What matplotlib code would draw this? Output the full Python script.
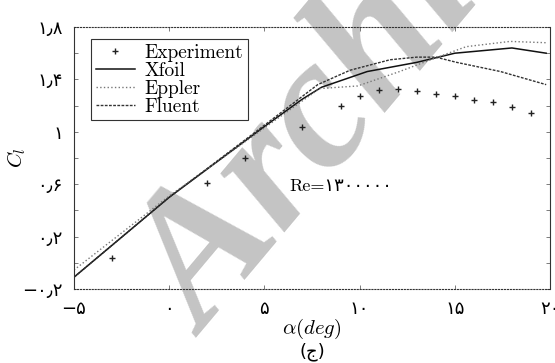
import matplotlib
matplotlib.use("Agg")
import matplotlib.pyplot as plt

plt.rcParams["mathtext.fontset"] = "cm"
plt.rcParams["axes.formatter.use_mathtext"] = True

# lift curve data, Re = 1.3e6
alpha_exp = [-3, 2, 4, 7, 9, 10, 11, 12, 13, 14, 15, 16, 17, 18, 19]
cl_exp = [0.04, 0.61, 0.80, 1.04, 1.20, 1.27, 1.32, 1.33, 1.31, 1.29, 1.27, 1.24, 1.23, 1.19, 1.14]

alpha_xfoil = [-5, 0, 5, 7, 8, 10.4, 13, 15, 18, 19.8]
cl_xfoil = [-0.11, 0.50, 1.04, 1.25, 1.34, 1.46, 1.53, 1.60, 1.64, 1.60]

alpha_eppler = [-5, 0, 5, 7.9, 9.9, 12.1, 14.1, 15.6, 17.9, 19.8]
cl_eppler = [-0.055, 0.51, 1.03, 1.33, 1.35, 1.46, 1.57, 1.65, 1.69, 1.68]

alpha_fluent = [-5, 0, 5, 7.8, 9.5, 11.6, 13, 14, 15.1, 17.4, 19.8]
cl_fluent = [-0.11, 0.50, 1.05, 1.36, 1.47, 1.55, 1.57, 1.57, 1.53, 1.46, 1.36]

y_ticks = [-0.2, 0, 0.2, 0.4, 0.6, 0.8, 1.0, 1.2, 1.4, 1.6, 1.8]
y_labels = ["−۰٫۲", "", "۰٫۲", "", "۰٫۶", "", "۱", "", "۱٫۴", "", "۱٫۸"]
x_ticks = [-5, 0, 5, 10, 15, 20]
x_labels = ["−۵", "۰", "۵", "۱۰", "۱۵", "۲۰"]

fig = plt.figure(figsize=(5.55, 3.63), dpi=100)
ax = fig.add_axes([0.1333, 0.2039, 0.8577, 0.7217])
ax.set_zorder(1)
ax.set_facecolor("none")

# watermark behind the axes
fig.text(0.19, 0.11, "Archive", rotation=50, fontsize=135, color="#c4c4c4",
         family="Liberation Serif", weight="bold", style="italic",
         ha="left", va="baseline", zorder=-5)

ax.plot(alpha_exp, cl_exp, "+", color="#222222", ms=5, mew=1.0, label="Experiment")
ax.plot(alpha_xfoil, cl_xfoil, "-", color="#111111", lw=1.1, label="Xfoil")
ax.plot(alpha_eppler, cl_eppler, ":", color="#777777", lw=1.0, label="Eppler")
ax.plot(alpha_fluent, cl_fluent, color="#333333", lw=1.0, dashes=(2, 1), label="Fluent")

ax.text(6.3, 0.55, "Re=۱۳۰۰۰۰۰", fontsize=13, family=["cmr10", "DejaVu Sans"])

ax.set_xlim(-5, 19.8)
ax.set_ylim(-0.2, 1.8)
ax.set_xticks(x_ticks)
ax.set_xticklabels(x_labels, fontsize=13)
ax.set_yticks(y_ticks)
ax.set_yticklabels(y_labels, fontsize=13)
ax.tick_params(direction="in", length=3, width=0.6, color="#666666", pad=8,
               top=True, right=True)

for side in ["left", "right"]:
    ax.spines[side].set_color("#333333")
    ax.spines[side].set_linewidth(0.8)
for side in ["top", "bottom"]:
    ax.spines[side].set_color("#333333")
    ax.spines[side].set_linewidth(0.8)
    ax.spines[side].set_linestyle(":")

ax.set_xlabel(r"$\alpha(deg)$", fontsize=15)
ax.xaxis.set_label_coords(0.5, -0.105)
ax.set_ylabel(r"$C_l$", fontsize=15)
ax.yaxis.set_label_coords(-0.097, 0.5)
fig.text(0.563, 0.030, "(ج)", fontsize=13, ha="center", va="center", family="DejaVu Sans")

leg = ax.legend(loc="upper left", bbox_to_anchor=(0.036, 0.955), borderaxespad=0,
                fancybox=False, edgecolor="#333333", framealpha=1, handlelength=2.0,
                borderpad=0.25, labelspacing=0.0, handletextpad=0.5,
                prop={"family": "cmr10", "size": 14})
leg.get_frame().set_linewidth(0.8)

fig.savefig("out.png", dpi=100)
